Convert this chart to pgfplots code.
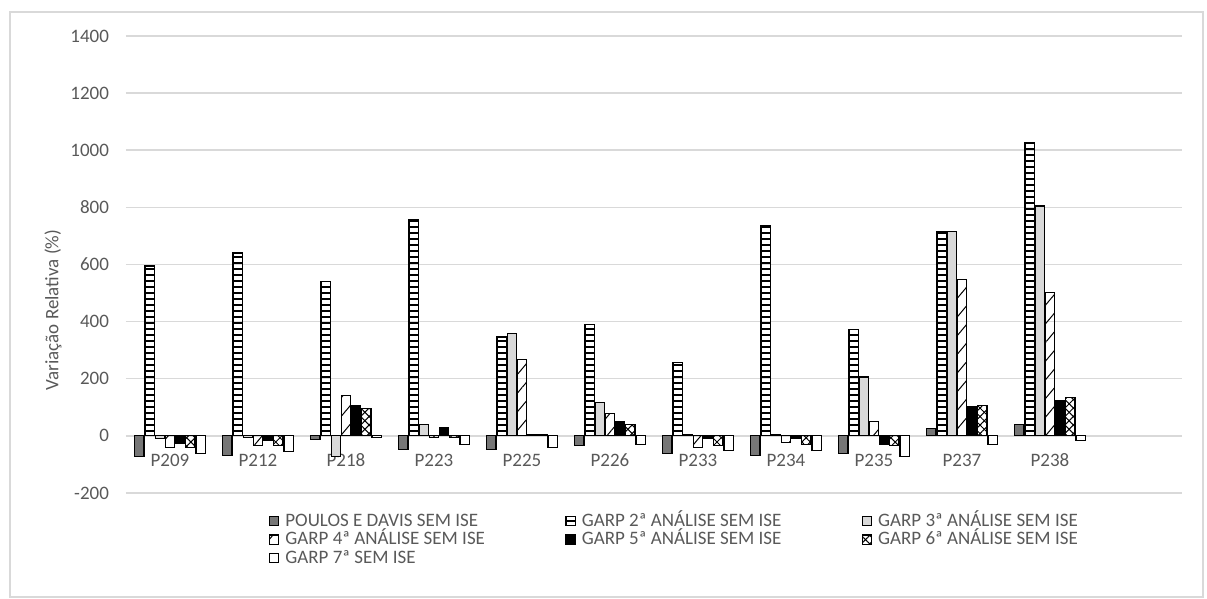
\documentclass[border=0pt]{standalone}
\usepackage{fontspec}
\setmainfont{Carlito}
\usepackage{pgfplots}
\pgfplotsset{compat=1.18}
\usepackage{pgfplotstable}
\usetikzlibrary{patterns,patterns.meta}
\definecolor{gridgray}{HTML}{D9D9D9}
\definecolor{labelgray}{HTML}{595959}
\definecolor{darkbar}{HTML}{767676}
\definecolor{lightbar}{HTML}{D9D9D9}

\pgfplotstableread{
x s1 s2 s3 s4 s5 s6 s7
0 -72 595 -10 -42 -27 -40 -62
1 -68 640 -5 -35 -17 -35 -56
2 -12 540 -72 140 107 96 -5
3 -47 757 41 -5 29 -5 -29
4 -47 346 358 268 5 5 -41
5 -35 391 117 78 51 40 -29
6 -62 257 3 -41 -10 -35 -52
7 -70 735 3 -23 -10 -29 -52
8 -62 373 206 50 -29 -35 -73
9 27 715 715 547 103 107 -29
10 40 1027 805 503 123 134 -17
}\datatable

\begin{document}
\begin{tikzpicture}
\path[use as bounding box] (0,0) rectangle (603.5pt,299.5pt);
\draw[gridgray, line width=0.6pt] (5pt,1pt) rectangle (601.5pt,293.5pt);
\begin{axis}[
  at={(63pt,53pt)}, anchor=south west,
  scale only axis, width=528pt, height=228.5pt,
  ymin=-200, ymax=1400, ytick={-200,0,200,400,600,800,1000,1200,1400},
  xmin=-0.5, xmax=11.5, xtick={0,...,10},
  xticklabels={P209,P212,P218,P223,P225,P226,P233,P234,P235,P237,P238},
  ybar=0.5pt, bar width=4.6pt,
  ymajorgrids, grid style={gridgray, line width=0.75pt},
  axis line style={draw=none}, major tick length=0pt,
  /pgf/number format/1000 sep={},
  /pgf/number format/assume math mode=true,
  tick label style={font=\fontsize{9.5}{11}\selectfont, text=labelgray},
  xticklabel style={anchor=center, yshift=16.5pt},
  yticklabel style={xshift=-5pt},
  ylabel={Variação Relativa (\%)},
  ylabel style={at={(axis description cs:-0.0691,0.4004)}, anchor=center, font=\fontsize{9.5}{11}\selectfont, text=labelgray},
  every axis plot/.append style={draw=black, line width=0.6pt},
  legend image code/.code={\draw[#1] (0pt,-2.3pt) rectangle (4.6pt,2.3pt);},
  legend columns=3, legend cell align=left,
  legend style={draw=none, fill=none, inner sep=0pt, outer sep=0pt,
    at={(axis description cs:0.1354,-0.0416)}, anchor=north west,
    font=\fontsize{9.5}{11}\selectfont, text=labelgray, row sep=0.25pt,
    nodes={inner xsep=3pt, inner ysep=0pt, text height=7pt, text depth=2pt}},
]
\addplot[fill=darkbar] table[x=x,y=s1]{\datatable};
\addplot[fill=white, pattern={Lines[angle=0,distance=3pt,line width=0.6pt]}] table[x=x,y=s2]{\datatable};
\addplot[fill=lightbar] table[x=x,y=s3]{\datatable};
\addplot[fill=white, pattern={Lines[angle=50,distance=6pt,line width=0.5pt]}] table[x=x,y=s4]{\datatable};
\addplot[fill=black] table[x=x,y=s5]{\datatable};
\addplot[fill=white, pattern={Lines[angle=45,distance=3pt,line width=0.5pt]}, postaction={pattern={Lines[angle=-45,distance=3pt,line width=0.5pt]}}] table[x=x,y=s6]{\datatable};
\addplot[fill=white] table[x=x,y=s7]{\datatable};
\legend{\makebox[137pt][l]{POULOS E DAVIS SEM ISE},
        \makebox[137pt][l]{GARP 2ª ANÁLISE SEM ISE},
        \makebox[137pt][l]{GARP 3ª ANÁLISE SEM ISE},
        \makebox[137pt][l]{GARP 4ª ANÁLISE SEM ISE},
        \makebox[137pt][l]{GARP 5ª ANÁLISE SEM ISE},
        \makebox[137pt][l]{GARP 6ª ANÁLISE SEM ISE},
        \makebox[137pt][l]{GARP 7ª SEM ISE}}
\end{axis}
\end{tikzpicture}
\end{document}
